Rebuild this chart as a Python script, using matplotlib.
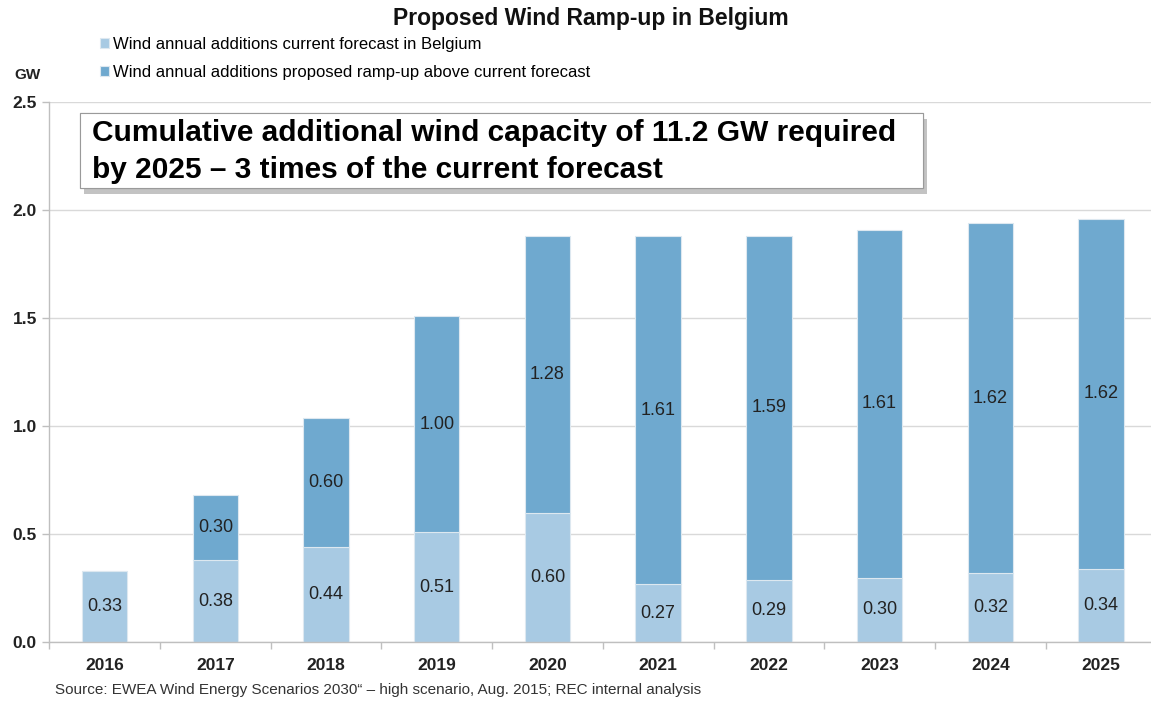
import numpy as np
import matplotlib.pyplot as plt
import matplotlib.patches as mpatches
import matplotlib.patheffects as pe

plt.rcParams['font.family'] = ['Liberation Sans', 'DejaVu Sans']

years = ['2016', '2017', '2018', '2019', '2020', '2021', '2022', '2023', '2024', '2025']
current = [0.33, 0.38, 0.44, 0.51, 0.60, 0.27, 0.29, 0.30, 0.32, 0.34]
rampup = [0.00, 0.30, 0.60, 1.00, 1.28, 1.61, 1.59, 1.61, 1.62, 1.62]
series_names = ['Wind annual additions current forecast in Belgium',
                'Wind annual additions proposed ramp-up above current forecast']
yticks = [0.0, 0.5, 1.0, 1.5, 2.0, 2.5]

c_light = '#a8cae3'
c_dark = '#6fa9cf'

W, H = 1151, 706
fig = plt.figure(figsize=(W / 100, H / 100), dpi=100)
ax = fig.add_axes([49.3 / W, (H - 642.3) / H, 1107 / W, 540 / H])

x = np.arange(len(years))
b1 = ax.bar(x, current, width=0.41, color=c_light, edgecolor='#dde8f0', linewidth=0.8, zorder=3)
b2 = ax.bar(x, rampup, width=0.41, bottom=current, color=c_dark, edgecolor='#dde8f0', linewidth=0.8, zorder=3)

# valeurs au centre des segments
for i in range(len(years)):
    ax.text(x[i], current[i] / 2, f'{current[i]:.2f}', ha='center', va='center',
            fontsize=13, color='#222222', zorder=4)
    if rampup[i] > 0:
        ax.text(x[i], current[i] + rampup[i] / 2, f'{rampup[i]:.2f}', ha='center', va='center',
                fontsize=13, color='#222222', zorder=4)

ax.set_xlim(-0.5, len(years) - 0.5)
ax.set_ylim(0, 2.5)
ax.set_yticks(yticks)
ax.set_yticklabels([f'{v:.1f}' for v in yticks], fontsize=12.5, fontweight='bold', color='#222222')
ax.set_xticks(x)
ax.set_xticklabels(years, fontsize=12.5, fontweight='bold', color='#222222')
ax.set_xticks(np.arange(len(years) + 1) - 0.5, minor=True)
ax.tick_params(axis='x', which='major', length=0, pad=11)
ax.tick_params(axis='x', which='minor', length=5, color='#bfbfbf', width=1)
ax.tick_params(axis='y', length=5, color='#bfbfbf', width=1, pad=4)
ax.grid(axis='y', color='#d9d9d9', linewidth=1, zorder=0)
for s in ['top', 'right']:
    ax.spines[s].set_visible(False)
for s in ['left', 'bottom']:
    ax.spines[s].set_color('#bfbfbf')
    ax.spines[s].set_linewidth(1)
ax.spines['bottom'].set_zorder(5)

fig.text(591 / W, 1 - 18 / H, 'Proposed Wind Ramp-up in Belgium', ha='center', va='center',
         fontsize=16.5, fontweight='bold', color='#111111')
fig.text(14 / W, 1 - 75 / H, 'GW', ha='left', va='center', fontsize=11, fontweight='bold', color='#222222')

fig.legend([b1, b2], series_names, loc='upper left', bbox_to_anchor=(100 / W, 1 - 37 / H),
           frameon=False, fontsize=12, handlelength=0.55, handleheight=0.55, handletextpad=0.25,
           labelspacing=0.78, borderpad=0, borderaxespad=0)

# encadré avec ombre
box = mpatches.Rectangle((80 / W, 1 - 188 / H), 843 / W, 75 / H, transform=fig.transFigure,
                         facecolor='white', edgecolor='#9a9a9a', linewidth=0.8, zorder=10,
                         path_effects=[pe.withSimplePatchShadow(offset=(3, -4), shadow_rgbFace='#888888', alpha=0.5),
                                       pe.Normal()])
fig.patches.append(box)
fig.text(92 / W, 1 - 133 / H, 'Cumulative additional wind capacity of 11.2 GW required',
         ha='left', va='center', fontsize=21.5, fontweight='bold', color='black', zorder=11)
fig.text(92 / W, 1 - 170 / H, 'by 2025 \u2013 3 times of the current forecast',
         ha='left', va='center', fontsize=21.5, fontweight='bold', color='black', zorder=11)

fig.text(55 / W, 1 - 690 / H, 'Source: EWEA Wind Energy Scenarios 2030\u201c \u2013 high scenario, Aug. 2015; REC internal analysis',
         ha='left', va='center', fontsize=11, color='#333333')

fig.savefig('out.png', dpi=100)
